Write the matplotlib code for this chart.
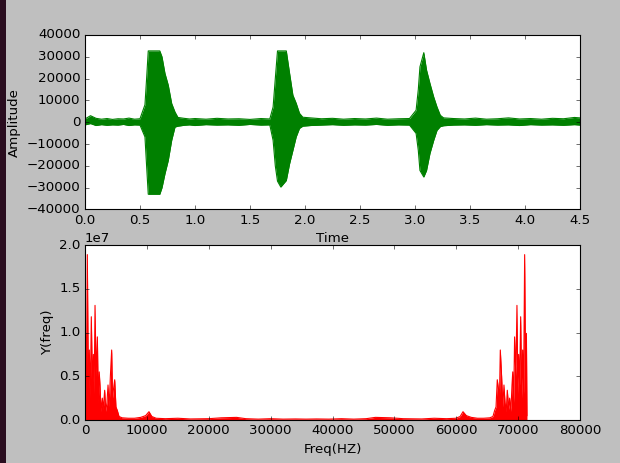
import numpy as np
import matplotlib
matplotlib.use("Agg")
import matplotlib.pyplot as plt
from matplotlib.patches import Rectangle

plt.style.use("classic")

# ========================
# Waveform envelope
# ========================
time_s = [0.00, 0.05, 0.10, 0.15, 0.20, 0.25, 0.30, 0.35, 0.40, 0.45, 0.50,
          0.545, 0.56, 0.575, 0.59, 0.64, 0.68, 0.70, 0.727, 0.757, 0.788, 0.818, 0.845,
          0.90, 0.95, 1.00, 1.10, 1.20, 1.30, 1.40, 1.50, 1.60, 1.68,
          1.71, 1.73, 1.75, 1.78, 1.83, 1.86, 1.89, 1.92, 1.95, 1.98,
          2.05, 2.15, 2.25, 2.35, 2.45, 2.55, 2.65, 2.75, 2.85, 2.95,
          3.01, 3.03, 3.045, 3.08, 3.105, 3.136, 3.17, 3.20, 3.23, 3.26,
          3.35, 3.45, 3.55, 3.65, 3.75, 3.85, 3.95, 4.05, 4.15, 4.25, 4.35, 4.45, 4.50]
amp_upper = [1500, 3000, 1800, 1400, 1700, 1300, 1600, 1500, 1900, 1400, 1600,
             8000, 20000, 32700, 32700, 32700, 32700, 30000, 22400, 17000, 8600, 4700, 2200,
             1800, 1500, 1700, 1400, 1800, 1500, 1600, 1300, 1700, 1500,
             7000, 20000, 32700, 32700, 32700, 22400, 12400, 8700, 4100, 2300,
             2000, 1600, 1800, 1400, 1700, 1500, 1900, 1400, 1600, 1700,
             5500, 15000, 25400, 31900, 23900, 17800, 11600, 7000, 3200, 2000,
             1700, 1500, 1900, 1400, 1600, 2000, 1500, 1700, 1400, 1800, 1600, 2200, 2000]
amp_lower = [-1200, -600, -1500, -1100, -1400, -1200, -1300, -1000, -1500, -1200, -1300,
             -6700, -20000, -33000, -33000, -33000, -33000, -30000, -23600, -17500, -8300, -2200, -1800,
             -1400, -1200, -1500, -1100, -1300, -1200, -1400, -1000, -1300, -1200,
             -8300, -20000, -27000, -29700, -26700, -19000, -12900, -6700, -2800, -1800,
             -1500, -1300, -1100, -1400, -1200, -1300, -1000, -1400, -1200, -1300,
             -5100, -12900, -22100, -25100, -22100, -14300, -8300, -3700, -2000, -1600,
             -1300, -1200, -1400, -1100, -1300, -1200, -1500, -1100, -1300, -1200, -1400, -1100, -1300]

# ========================
# One-sided spectrum magnitude (units of 1e6), mirrored about N_SAMPLES
# ========================
N_SAMPLES = 71430
freq_hz = [0, 90, 200, 376, 550, 700, 850, 1020, 1200, 1350, 1480, 1620, 1800,
           2000, 2150, 2300, 2420, 2600, 2800, 2950, 3180, 3350, 3550, 3720,
           3900, 4100, 4310, 4450, 4600, 4800, 5000, 5220, 5500, 6000, 7000,
           8000, 9000, 9800, 10340, 10800, 11500, 13000, 15000, 17000, 20000,
           22000, 24500, 26000, 28000, 30000, 32000, 34000, 35715]
mag_1e6 = [0.5, 9.9, 2.0, 18.9, 3.0, 8.0, 2.5, 11.8, 4.0, 7.5, 3.0, 13.1, 5.0,
           9.5, 2.0, 5.5, 4.0, 1.0, 2.5, 1.2, 3.4, 1.0, 2.0, 4.0,
           1.5, 5.0, 8.0, 2.5, 3.5, 4.6, 1.5, 1.1, 0.4, 0.25, 0.2,
           0.2, 0.3, 0.5, 0.95, 0.4, 0.2, 0.15, 0.2, 0.12, 0.15,
           0.25, 0.3, 0.15, 0.1, 0.15, 0.1, 0.12, 0.1]

freq_full = np.concatenate([freq_hz, N_SAMPLES - np.array(freq_hz[::-1])])
mag_full = np.concatenate([mag_1e6, mag_1e6[::-1]]) * 1e6

# ========================
# Figure
# ========================
fig = plt.figure(figsize=(7.75, 5.7875), dpi=80, facecolor="#bfbfbf")
fig.patches.append(Rectangle((0, 0), 6 / 620, 1, transform=fig.transFigure,
                             facecolor="#2a0d1f", edgecolor="none", zorder=-1))

ax1 = fig.add_axes([85 / 620, 1 - 209.5 / 463, 495 / 620, 174.5 / 463])
ax1.fill_between(time_s, amp_lower, amp_upper, color="g", linewidth=0)
ax1.plot(time_s, amp_upper, color="g", lw=1)
ax1.plot(time_s, amp_lower, color="g", lw=1)
ax1.set_xlim(0, 4.5)
ax1.set_ylim(-40000, 40000)
ax1.set_xticks(np.arange(0, 4.51, 0.5))
ax1.set_yticks(np.arange(-40000, 40001, 10000))
ax1.set_xlabel("Time")
ax1.set_ylabel("Amplitude")

ax2 = fig.add_axes([85 / 620, 1 - 420 / 463, 495 / 620, 175 / 463])
ax2.fill_between(freq_full, 0, mag_full, color="r", linewidth=0)
ax2.plot(freq_full, mag_full, color="r", lw=1)
ax2.set_xlim(0, 80000)
ax2.set_ylim(0, 2e7)
ax2.set_xticks(np.arange(0, 80001, 10000))
ax2.set_yticks(np.arange(0, 2.01e7, 0.5e7))
ax2.set_xlabel("Freq(HZ)")
ax2.set_ylabel("Y(freq)")

fig.savefig("out.png", dpi=80, facecolor=fig.get_facecolor())
